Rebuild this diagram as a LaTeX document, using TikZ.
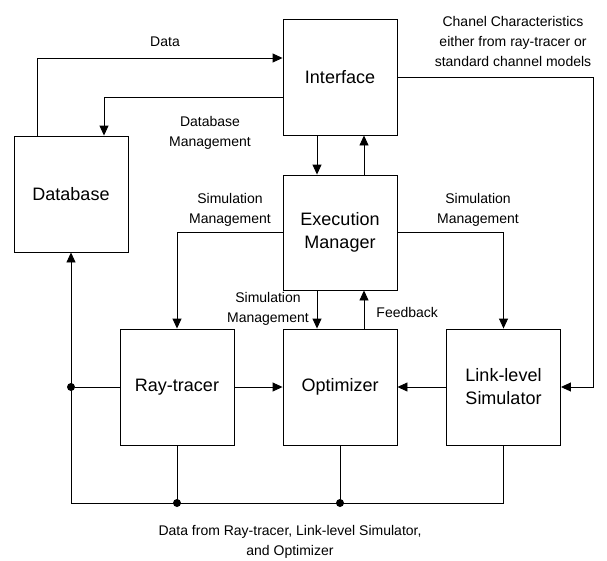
\documentclass[tikz,border=0pt]{standalone}
\usepackage{fontspec}
\setmainfont{Liberation Sans}
\usetikzlibrary{arrows.meta}

\begin{document}
\begin{tikzpicture}[x=1pt,y=-1pt,
    line width=0.9pt,
    >={Triangle[length=10pt,width=9pt]},
    block/.style={draw,minimum width=114pt,minimum height=116pt,inner sep=0pt,align=center,font=\fontsize{18}{23}\selectfont},
    lbl/.style={align=center,inner sep=0pt,font=\fontsize{14}{20}\selectfont},
    dot/.style={circle,fill,inner sep=0pt,minimum size=8pt}]
    \useasboundingbox (0,0) rectangle (607,560);
    % Blocks
    \node[block] (iface) at (340,77) {Interface};
    \node[block] (db) at (71,194) {Database};
    \node[block,minimum height=115pt] (exec) at (340,232.5) {Execution\\Manager};
    \node[block] (ray) at (177,387) {Ray-tracer};
    \node[block] (opt) at (340,387) {Optimizer};
    \node[block] (link) at (503.5,387) {Link-level\\Simulator};

    % Interface and database
    \draw[->] ([xshift=24pt]db.north west) |- ([yshift=19pt]iface.west);
    \draw[->] ([yshift=-20pt]iface.west) -| ([xshift=33pt]db.north);
    \node[lbl] (datalbl) at (165,42) {Data};
    \node[lbl] (dbmlbl) at (210,133) {Database\\Management};

    % Interface and execution manager
    \draw[->] ([xshift=-23pt]iface.south) -- ([xshift=-23pt]exec.north);
    \draw[->] ([xshift=24pt]exec.north) -- ([xshift=24pt]iface.south);

    % Channel characteristics
    \coordinate (chturn) at (593,77);
    \draw[->] (iface.east) -- (chturn) |- (link.east);
    \node[lbl] (chlbl) at (513,41) {Chanel Characteristics\\either from ray-tracer or\\standard channel models};

    % Simulation management
    \draw[->] (exec.west) -| (ray.north);
    \draw[->] (exec.east) -| (link.north);
    \draw[->] ([xshift=-23pt]exec.south) -- ([xshift=-23pt]opt.north);
    \draw[->] ([xshift=24pt]opt.north) -- ([xshift=24pt]exec.south);
    \node[lbl] (smleft) at (230,210) {Simulation\\Management};
    \node[lbl] (smright) at (478,210) {Simulation\\Management};
    \node[lbl] (smmid) at (268,309) {Simulation\\Management};
    \node[lbl,anchor=west] (fblbl) at (376,312) {Feedback};

    % Into optimizer
    \draw[->] (ray.east) -- (opt.west);
    \draw[->] (link.west) -- (opt.east);

    % Data bus back to database
    \coordinate (busL) at (71,503);
    \node[dot] (tap) at (71,387) {};
    \node[dot] (raytap) at (ray.south |- busL) {};
    \node[dot] (opttap) at (opt.south |- busL) {};
    \draw[->] (busL) -- (db.south);
    \draw (tap) -- (ray.west);
    \draw (busL) -- (link.south |- busL) -- (link.south);
    \draw (ray.south) -- (raytap.center);
    \draw (opt.south) -- (opttap.center);
    \node[lbl] (buslbl) at (290,542) {Data from Ray-tracer, Link-level Simulator,\\and Optimizer};
\end{tikzpicture}
\end{document}
